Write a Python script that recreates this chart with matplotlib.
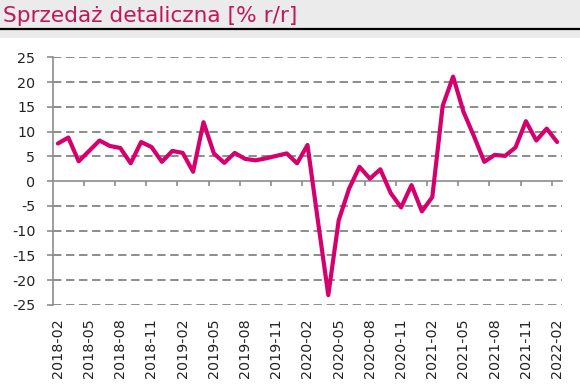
import numpy as np
import pandas as pd
import matplotlib
matplotlib.use("Agg")
import matplotlib.pyplot as plt
from matplotlib.patches import Rectangle
from matplotlib.lines import Line2D

# --- Data (retail sales, % y/y) ---
months = pd.date_range("2018-02-01", periods=49, freq="MS").strftime("%Y-%m").tolist()
sales = [7.6, 8.8, 4.0, 6.1, 8.2, 7.1, 6.7, 3.6, 7.9, 6.9, 3.9,
         6.1, 5.7, 1.9, 11.9, 5.6, 3.7, 5.7, 4.5, 4.2, 4.6, 5.1, 5.6,
         3.6, 7.3, -8.0, -23.0, -7.9, -1.5, 2.9, 0.5, 2.4, -2.4, -5.3, -0.8,
         -6.1, -3.2, 15.2, 21.1, 14.0, 9.1, 3.9, 5.3, 5.1, 6.8, 12.1, 8.2,
         10.6, 7.9]
title = "Sprzedaż detaliczna [% r/r]"
yticks = list(range(-25, 30, 5))

line_color = "#d5006d"
title_color = "#c2185b"
grid_color = "#8c8c8c"

plt.rcParams["axes.unicode_minus"] = False

fig = plt.figure(figsize=(5.8, 3.88), dpi=100)
W, H = 580, 388

# title band
fig.patches.append(Rectangle((0, 1 - 38 / H), 1, 38 / H, transform=fig.transFigure,
                             facecolor="#ebebeb", edgecolor="none", zorder=0))
fig.lines.append(Line2D([0, 1], [1 - 29 / H, 1 - 29 / H], transform=fig.transFigure,
                        color="black", linewidth=1.6))
fig.text(3 / W, 1 - 16 / H, title, color=title_color, fontsize=15.6,
         family="DejaVu Sans", va="center", ha="left")

ax = fig.add_axes([52.7 / W, (H - 305) / H, (562.3 - 52.7) / W, (305 - 57.3) / H])
x = np.arange(len(sales))
ax.plot(x, sales, color=line_color, linewidth=3.0, solid_joinstyle="round",
        solid_capstyle="round", zorder=5)

ax.set_xlim(-0.5, len(sales) - 0.5)
ax.set_ylim(-25, 25)
ax.set_yticks(yticks)
ax.set_xticks(x[::3])
ax.set_xticklabels(months[::3], rotation=90)

for s in ["top", "right", "bottom"]:
    ax.spines[s].set_visible(False)
ax.spines["left"].set_color(grid_color)
ax.spines["left"].set_linewidth(1.2)

ax.tick_params(axis="y", length=4.5, width=1.2, color=grid_color, pad=8,
               labelsize=10.3, labelcolor="#222222")
ax.tick_params(axis="x", length=0, pad=9.5, labelsize=10.3, labelcolor="#222222")
for lab in ax.get_xticklabels() + ax.get_yticklabels():
    lab.set_family("DejaVu Sans")

ax.yaxis.grid(True, color=grid_color, linewidth=1.4, linestyle=(0, (4.3, 2.4)))
ax.set_axisbelow(True)
for gl, v in zip(ax.yaxis.get_gridlines(), yticks):
    if v == 0:
        gl.set_visible(False)

# zero axis with tick marks between category groups
sec = ax.secondary_xaxis(0.499)
sec.set_xticks(np.arange(2.5, len(sales) - 0.5, 3))
sec.tick_params(axis="x", length=3.5, width=1.2, color=grid_color, labelbottom=False,
                labeltop=False)
sec.spines["bottom"].set_color(grid_color)
sec.spines["bottom"].set_linewidth(1.2)

fig.savefig("out.png", dpi=100)
